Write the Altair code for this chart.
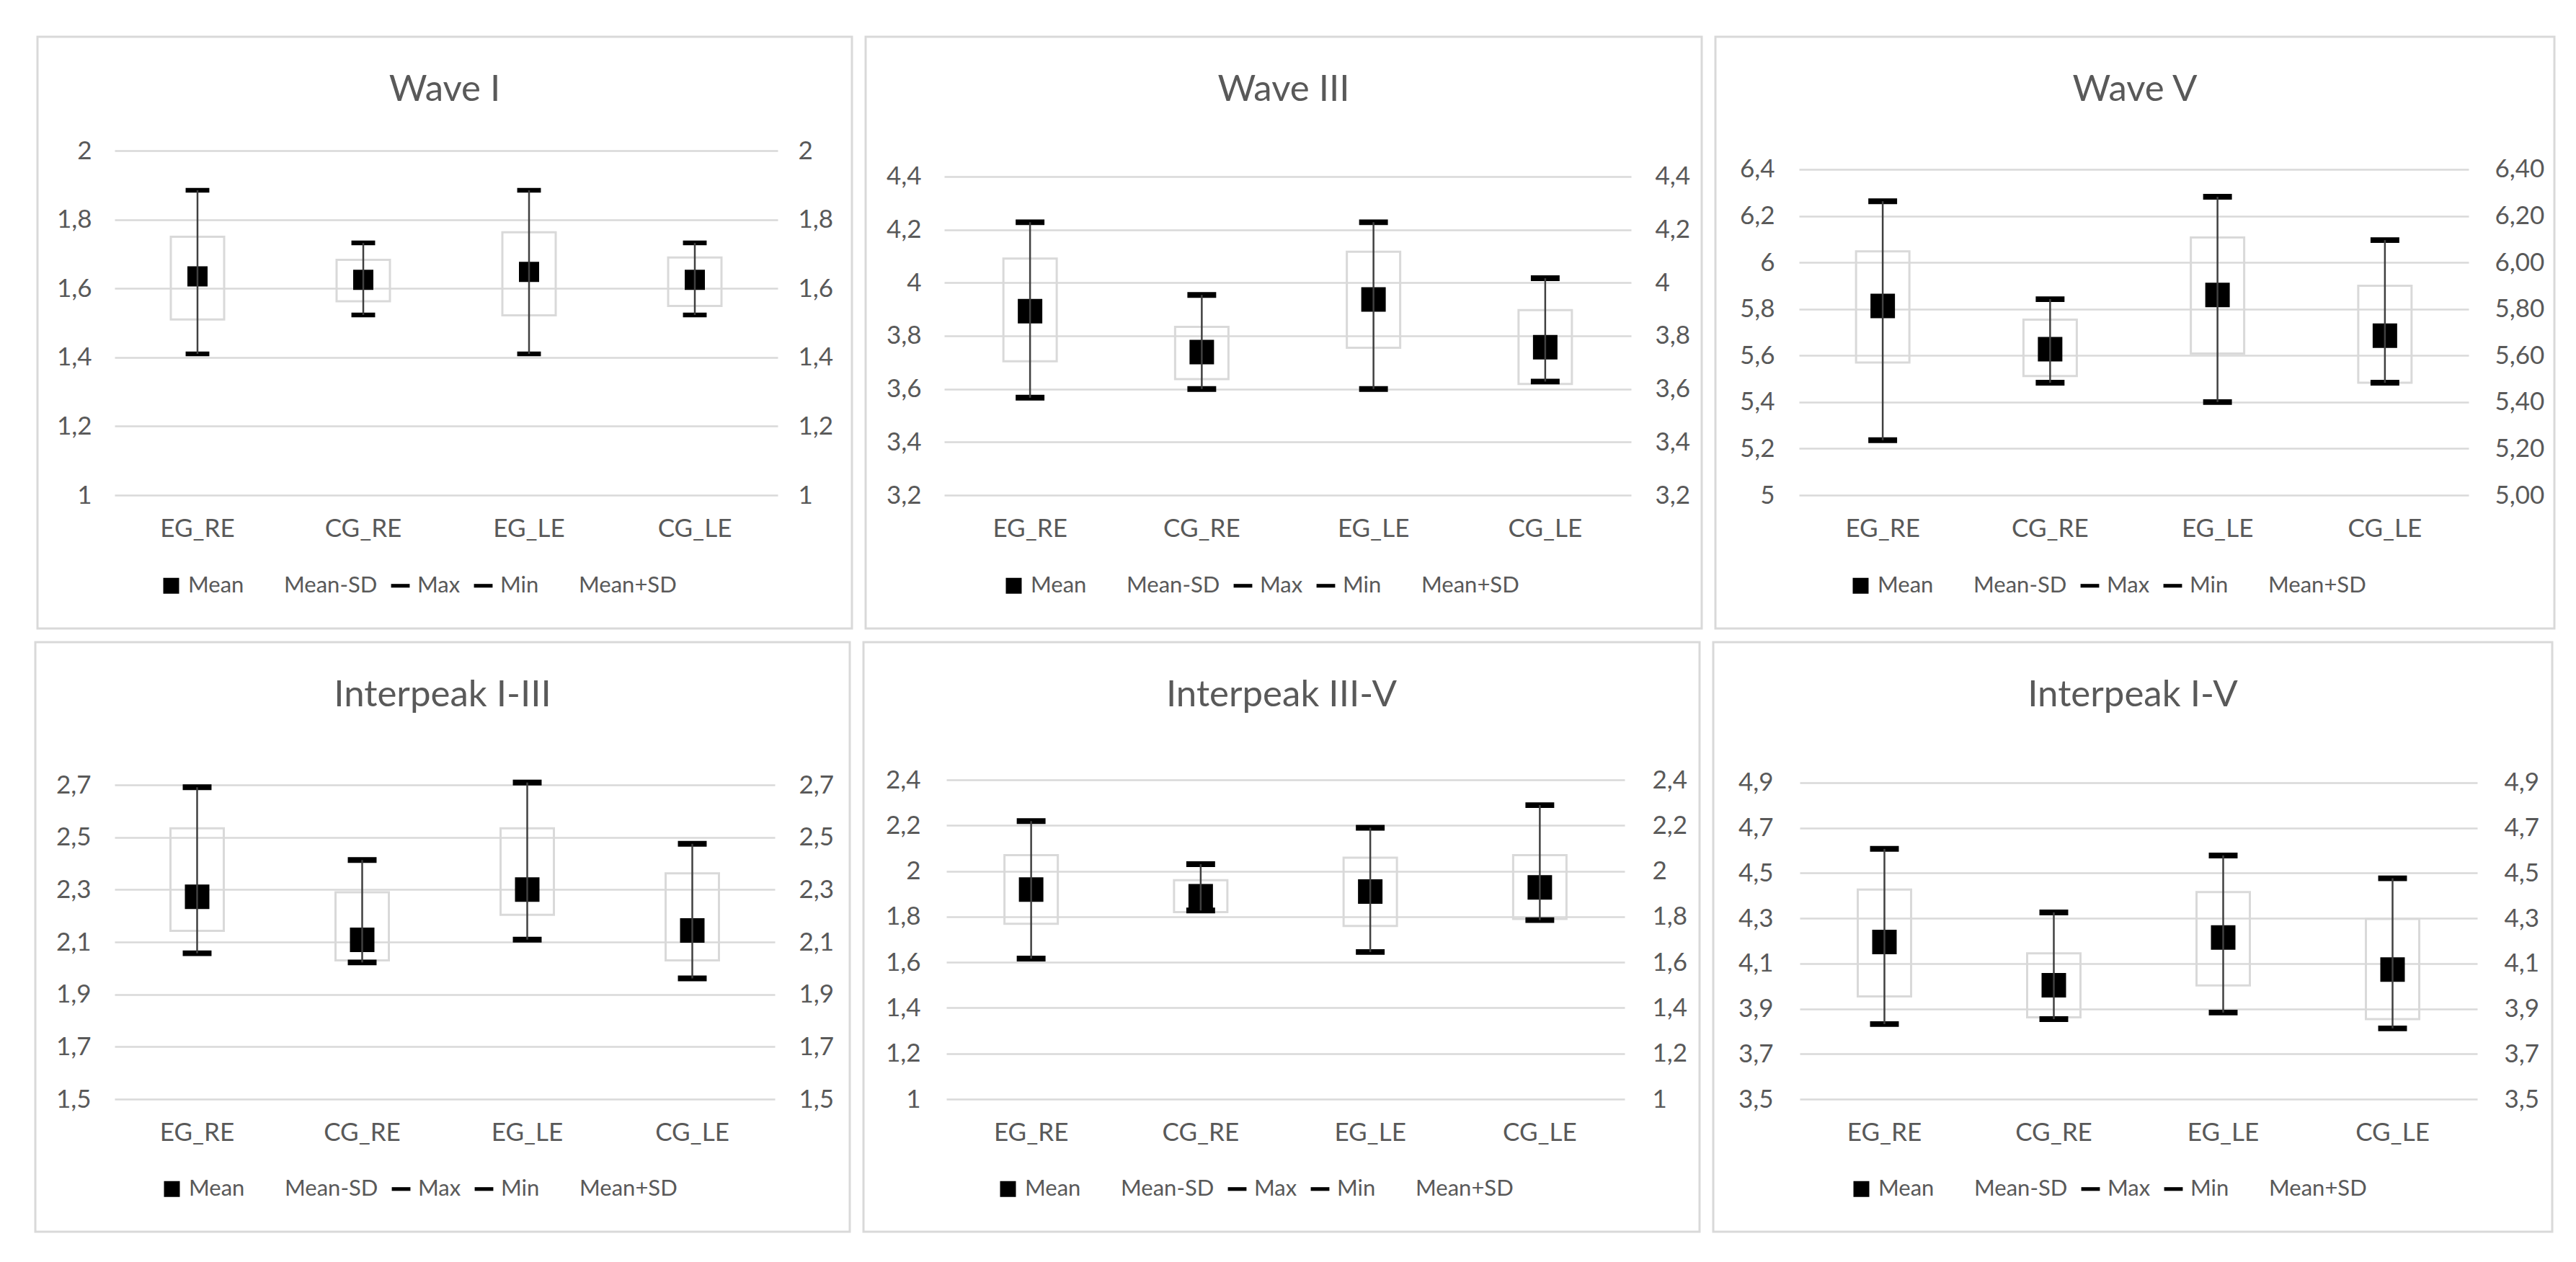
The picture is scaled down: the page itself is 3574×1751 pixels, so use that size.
import altair as alt
import pandas as pd

categories = ["EG_RE", "CG_RE", "EG_LE", "CG_LE"]
series_order = ["Mean", "Mean-SD", "Max", "Min", "Mean+SD"]
titles = ["Wave I", "Wave III", "Wave V", "Interpeak I-III", "Interpeak III-V", "Interpeak I-V"]

# Wave I
w1_mean = [1.635, 1.625, 1.648, 1.625]
w1_lo = [1.51, 1.563, 1.522, 1.549]
w1_hi = [1.75, 1.683, 1.763, 1.69]
w1_max = [1.885, 1.732, 1.885, 1.732]
w1_min = [1.41, 1.523, 1.41, 1.523]
w1_ticks = [1, 1.2, 1.4, 1.6, 1.8, 2]

# Wave III
w3_mean = [3.893, 3.739, 3.937, 3.757]
w3_lo = [3.704, 3.637, 3.755, 3.619]
w3_hi = [4.091, 3.834, 4.117, 3.897]
w3_max = [4.228, 3.954, 4.228, 4.017]
w3_min = [3.567, 3.6, 3.6, 3.628]
w3_ticks = [3.2, 3.4, 3.6, 3.8, 4, 4.2, 4.4]

# Wave V
w5_mean = [5.813, 5.627, 5.86, 5.685]
w5_lo = [5.57, 5.512, 5.609, 5.483]
w5_hi = [6.048, 5.754, 6.107, 5.9]
w5_max = [6.263, 5.842, 6.282, 6.096]
w5_min = [5.236, 5.483, 5.40, 5.483]
w5_ticks = [5, 5.2, 5.4, 5.6, 5.8, 6, 6.2, 6.4]

# Interpeak I-III
i13_mean = [2.273, 2.108, 2.3, 2.144]
i13_lo = [2.143, 2.03, 2.204, 2.03]
i13_hi = [2.534, 2.29, 2.534, 2.362]
i13_max = [2.691, 2.413, 2.709, 2.475]
i13_min = [2.057, 2.022, 2.109, 1.961]
i13_ticks = [1.5, 1.7, 1.9, 2.1, 2.3, 2.5, 2.7]

# Interpeak III-V
i35_mean = [1.919, 1.89, 1.91, 1.928]
i35_lo = [1.769, 1.82, 1.759, 1.79]
i35_hi = [2.07, 1.96, 2.059, 2.07]
i35_max = [2.219, 2.03, 2.19, 2.289]
i35_min = [1.616, 1.827, 1.645, 1.785]
i35_ticks = [1, 1.2, 1.4, 1.6, 1.8, 2, 2.2, 2.4]

# Interpeak I-V
i15_mean = [4.195, 4.004, 4.215, 4.073]
i15_lo = [3.954, 3.862, 4.003, 3.854]
i15_hi = [4.427, 4.145, 4.416, 4.297]
i15_max = [4.607, 4.326, 4.578, 4.477]
i15_min = [3.832, 3.854, 3.883, 3.813]
i15_ticks = [3.5, 3.7, 3.9, 4.1, 4.3, 4.5, 4.7, 4.9]

panels = [
    dict(mean=w1_mean, lo=w1_lo, hi=w1_hi, mx=w1_max, mn=w1_min, ticks=w1_ticks, rfmt="~g"),
    dict(mean=w3_mean, lo=w3_lo, hi=w3_hi, mx=w3_max, mn=w3_min, ticks=w3_ticks, rfmt="~g"),
    dict(mean=w5_mean, lo=w5_lo, hi=w5_hi, mx=w5_max, mn=w5_min, ticks=w5_ticks, rfmt=".2f"),
    dict(mean=i13_mean, lo=i13_lo, hi=i13_hi, mx=i13_max, mn=i13_min, ticks=i13_ticks, rfmt="~g"),
    dict(mean=i35_mean, lo=i35_lo, hi=i35_hi, mx=i35_max, mn=i35_min, ticks=i35_ticks, rfmt="~g"),
    dict(mean=i15_mean, lo=i15_lo, hi=i15_hi, mx=i15_max, mn=i15_min, ticks=i15_ticks, rfmt="~g"),
]

# layout (pixels): plot size, border offsets, y-domain top, legend position, title baseline
layouts = [
    dict(W=920, H=478, L=107, R=103, T=158, B=185, ymax=2.0, legX=63, legY=588, ty=-69,
         size=544, lp=32, rp=28),
    dict(W=953, H=478, L=109, R=98, T=158, B=185, ymax=4.4977, legX=81, legY=588, ty=-69,
         size=802, lp=32, rp=33),
    dict(W=929, H=478, L=116, R=119, T=158, B=185, ymax=6.4805, legX=70, legY=588, ty=-69,
         size=802, lp=34, rp=36),
    dict(W=916, H=443, L=110, R=104, T=191, B=184, ymax=2.7193, legX=64, legY=552, ty=-102,
         size=802, lp=33, rp=33),
    dict(W=941, H=443, L=115, R=104, T=191, B=184, ymax=2.4, legX=70, legY=552, ty=-102,
         size=802, lp=36, rp=38),
    dict(W=940, H=443, L=120, R=104, T=191, B=184, ymax=4.9126, legX=70, legY=552, ty=-102,
         size=802, lp=37, rp=37),
]

SQUARE = "M-1.2,-1.2H1.2V1.2H-1.2Z"
DASH = "M-1.41,-0.28H1.41V0.28H-1.41Z"
EMPTY = "M0,0"
TXT = "#595959"
GRID = "#d9d9d9"
FONT = "Lato"


def make_panel(i):
    p = panels[i]
    lay = layouts[i]
    df = pd.DataFrame({"cat": categories, "lo": p["lo"], "hi": p["hi"],
                       "max": p["mx"], "min": p["mn"]})
    long = pd.DataFrame({
        "cat": categories * 3,
        "series": ["Mean"] * 4 + ["Max"] * 4 + ["Min"] * 4,
        "value": p["mean"] + p["mx"] + p["mn"],
    })
    yscale = alt.Scale(domain=[p["ticks"][0], lay["ymax"]], nice=False, zero=False)
    xenc = alt.X("cat:N", sort=categories,
                 scale=alt.Scale(type="band", paddingInner=0, paddingOuter=0),
                 axis=alt.Axis(labelAngle=0, labelPadding=29, title=None, grid=False,
                               domain=False, ticks=False))
    left_axis = alt.Axis(values=p["ticks"], orient="left", labelPadding=lay["lp"], grid=True,
                         title=None, domain=False, ticks=False,
                         labelExpr="replace(format(datum.value, '~g'), '.', ',')")
    right_axis = alt.Axis(values=p["ticks"], orient="right", labelPadding=lay["rp"], grid=False,
                          title=None, domain=False, ticks=False,
                          labelExpr="replace(format(datum.value, '%s'), '.', ',')" % p["rfmt"])

    border = alt.Chart(pd.DataFrame({"d": [0]})).mark_rect(
        fillOpacity=0, stroke=GRID, strokeWidth=3
    ).encode(
        x=alt.value(-lay["L"]), x2=alt.value(lay["W"] + lay["R"]),
        y=alt.value(-lay["T"]), y2=alt.value(lay["H"] + lay["B"]),
    )
    cx = (lay["W"] + lay["R"] - lay["L"]) / 2
    title = alt.Chart(pd.DataFrame({"t": [titles[i]]})).mark_text(
        font=FONT, fontSize=51, color=TXT, align="center", baseline="alphabetic"
    ).encode(text="t:N", x=alt.value(cx), y=alt.value(lay["ty"]))

    box = alt.Chart(df).mark_bar(size=74, fillOpacity=0, stroke=GRID, strokeWidth=3).encode(
        x=xenc, y=alt.Y("lo:Q", scale=yscale, axis=left_axis), y2="hi:Q"
    )
    pts = alt.Chart(long).mark_point(filled=True, color="black", opacity=1,
                                     size=lay["size"], strokeWidth=0).encode(
        x=xenc,
        y=alt.Y("value:Q", scale=yscale, axis=None),
        shape=alt.Shape("series:N",
                        scale=alt.Scale(domain=series_order,
                                        range=[SQUARE, EMPTY, DASH, DASH, EMPTY]),
                        legend=alt.Legend(orient="none", legendX=lay["legX"], legendY=lay["legY"],
                                          direction="horizontal", columns=5, title=None,
                                          labelFont=FONT, labelFontSize=31, labelColor=TXT,
                                          symbolSize=336, symbolFillColor="black",
                                          symbolStrokeWidth=0, columnPadding=16,
                                          labelOffset=8, padding=0)),
    )
    whisk = alt.Chart(df).mark_rule(color="#404040", strokeWidth=2.5).encode(
        x=xenc, y=alt.Y("min:Q", scale=yscale, axis=right_axis), y2="max:Q"
    )
    return alt.layer(border, title, box, pts, whisk).resolve_axis(y="independent").properties(
        width=lay["W"], height=lay["H"]
    )


row1 = alt.hconcat(make_panel(0), make_panel(1), make_panel(2), spacing=15).resolve_scale(
    shape="independent").resolve_legend(shape="independent")
row2 = alt.hconcat(make_panel(3), make_panel(4), make_panel(5), spacing=15).resolve_scale(
    shape="independent").resolve_legend(shape="independent")

chart = alt.vconcat(row1, row2, spacing=15).resolve_scale(
    shape="independent").resolve_legend(shape="independent").properties(
    padding={"left": 39, "top": 41, "right": 5, "bottom": 5}, background="white"
).configure(font=FONT).configure_view(stroke=None).configure_axis(
    labelFont=FONT, labelFontSize=35, labelColor=TXT, gridColor=GRID, gridWidth=2.5
)

chart.save("out.html", embed_options={"renderer": "svg", "actions": False})
